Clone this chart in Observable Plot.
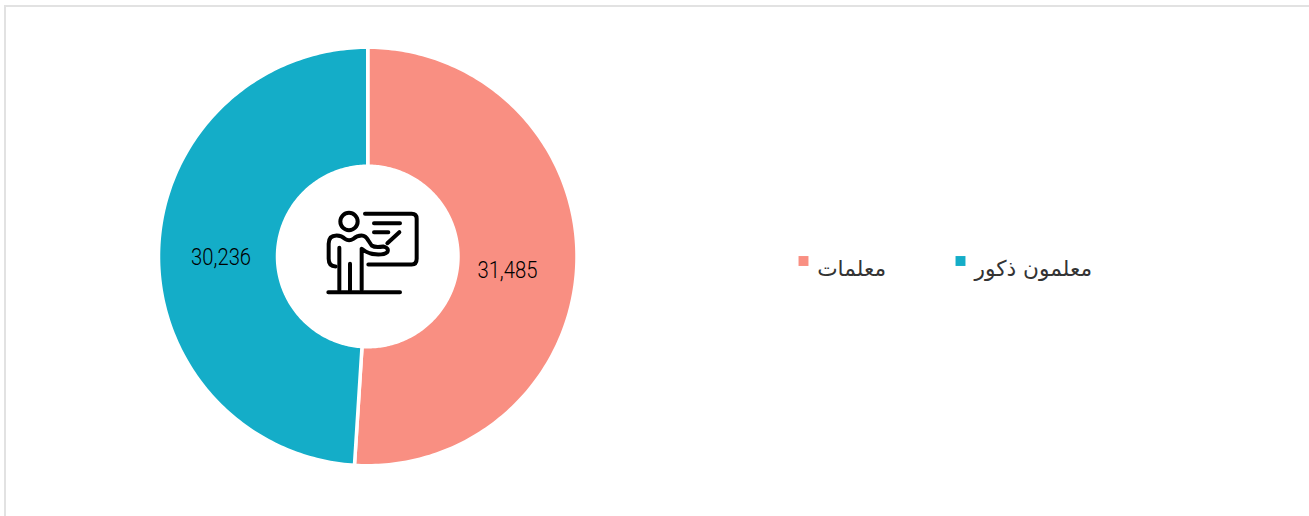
<!DOCTYPE html>
<html lang="ar"><head><meta charset="utf-8">
<script src="https://cdn.jsdelivr.net/npm/d3@7"></script>
<script src="https://cdn.jsdelivr.net/npm/@observablehq/plot@0.6"></script>
<style>
html,body{margin:0;padding:0;background:#fff;overflow:hidden}
#border{position:absolute;left:4px;top:5px;width:1303px;height:510px;border:2px solid #e2e2e2;border-bottom-color:#efefef}
#chart{position:absolute;left:0;top:0}
svg{background:transparent!important;display:block}
</style></head><body>
<div id="border"></div><div id="chart"></div>
<script>
const categories = ["معلمات", "معلمون ذكور"];
const values = [31485, 30236];
const colors = ["#F98F82", "#14ADC8"];

const W = 1309, H = 516, cx = 367.25, cy = 256, R = 209.25, r = 90.25;
const pie = d3.pie().sort(null)(values);
const slices = [];
pie.forEach((p, i) => {
  const n = Math.ceil((p.endAngle - p.startAngle) * 60);
  const ring = [];
  for (let k = 0; k <= n; k++) ring.push([R, p.startAngle + (p.endAngle - p.startAngle) * k / n]);
  for (let k = n; k >= 0; k--) ring.push([r, p.startAngle + (p.endAngle - p.startAngle) * k / n]);
  ring.push(ring[0]);
  for (const [rad, a] of ring) slices.push({category: categories[i], x: cx + rad * Math.sin(a), y: cy - rad * Math.cos(a)});
});
const labelOffset = [[-10, 9], [3, 6]];
const labels = pie.map((p, i) => {
  const a = (p.startAngle + p.endAngle) / 2, m = (R + r) / 2;
  return {text: d3.format(",")(values[i]), x: cx + m * Math.sin(a) + labelOffset[i][0], y: cy - m * Math.cos(a) + labelOffset[i][1]};
});
const legend = [
  {category: categories[0], sx: 803, sy: 260.5, tx: 885.5, ty: 269},
  {category: categories[1], sx: 960, sy: 260.5, tx: 1091.5, ty: 269}
];
const icon = `<svg xmlns="http://www.w3.org/2000/svg" viewBox="0 0 420 360"><g fill="none" stroke="#000" stroke-width="12" stroke-linecap="round" stroke-linejoin="round">
<circle cx="147" cy="93" r="26"/>
<path d="M195 70H335Q350 70 350 85V205Q350 222 335 222H205"/>
<path d="M222 98H300M222 125H265M262 158L298 125"/>
<path d="M107 228Q86 228 86 205V160Q86 135 110 135Q125 135 135 145Q147 153 160 145Q170 135 185 135Q197 135 205 150L215 165Q225 172 250 168Q268 172 262 185Q255 192 235 192Q205 192 185 175V298"/>
<path d="M118 172V298M150 220V298M85 305H300"/></g></svg>`;
const iconSrc = "data:image/svg+xml;utf8," + encodeURIComponent(icon);

const plot = Plot.plot({
  width: W, height: H, margin: 0,
  x: {domain: [0, W], range: [0, W], axis: null},
  y: {domain: [0, H], range: [0, H], axis: null},
  color: {domain: categories, range: colors},
  marks: [
    Plot.line(slices, {x: "x", y: "y", z: "category", fill: "category", stroke: "white", strokeWidth: 3.5}),
    Plot.image([{x: 369.5, y: 250}], {x: "x", y: "y", width: 140, height: 120, src: () => iconSrc}),
    Plot.text(labels, {x: "x", y: "y", text: "text", fontSize: 23, fontFamily: "Roboto", fontWeight: 300, fill: "#000", className: "num"}),
    Plot.dot(legend, {x: "sx", y: "sy", symbol: "square", r: 5.6, fill: "category", stroke: "none"}),
    Plot.text(legend, {x: "tx", y: "ty", text: "category", textAnchor: "end", fontSize: 21.7, fontFamily: "'DejaVu Sans'", fill: "#333"})
  ]
});
d3.select(plot).selectAll(".num text").attr("textLength", 60).attr("lengthAdjust", "spacingAndGlyphs");
document.getElementById("chart").append(plot);
</script></body></html>
